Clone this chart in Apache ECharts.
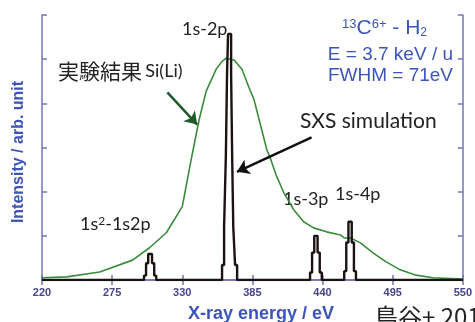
<!DOCTYPE html>
<html>
<head>
<meta charset="utf-8">
<script src="https://cdn.jsdelivr.net/npm/echarts@6/dist/echarts.min.js"></script>
<style>
  html, body { margin: 0; padding: 0; background: #fff; }
  #chart { width: 475px; height: 322px; }
</style>
</head>
<body>
<div id="chart"></div>
<script>
const siLiEnergy = [220, 239.5, 265.2, 291.0, 304.3, 317.5, 330.0, 337.0, 343.3, 348.7, 356.5, 361.2, 364.3, 370.6, 376.8, 382.3, 386.2, 391.6, 396.3, 399.4, 404.1, 409.6, 417.4, 425.2, 433.0, 443.1, 454.1, 457.2, 461.9, 469.7, 479.8, 489.9, 500.9, 513.3, 526.6, 550]
const siLiIntensity = [0.05, 0.07, 0.18, 0.45, 0.73, 1.07, 1.66, 2.73, 3.64, 4.27, 4.77, 4.95, 5.02, 4.98, 4.77, 4.36, 4.09, 3.48, 2.95, 2.73, 2.34, 1.98, 1.59, 1.32, 1.18, 1.09, 1.02, 0.95, 0.95, 0.84, 0.61, 0.41, 0.23, 0.11, 0.05, 0.02]

// SXS simulation peaks: centre (eV) and histogram levels [half width eV, height], top to bottom
const peakNames = ['1s²-1s2p', '1s-2p', '1s-3p', '1s-4p']
const peakCenters = [304.8, 367.1, 434.8, 461.6]
const peakLevels = [
  [[1.5, 0.59], [3.2, 0.38], [4.8, 0.10]],
  [[1.2, 5.57], [2.0, 4.66], [2.9, 2.84], [4.3, 1.20], [5.9, 0.34]],
  [[1.3, 1.00], [3.0, 0.62], [4.6, 0.17]],
  [[1.3, 1.32], [3.0, 0.85], [4.6, 0.20]]
]

const xTicks = [220, 275, 330, 385, 440, 495, 550]

const axisColor = '#7474b8'
const labelColor = '#45458a'
const blue = '#3d55b8'

// build step outline of simulated spectrum
const sxsLine = [[220, 0]]
peakCenters.forEach((c, i) => {
  const lv = peakLevels[i]
  const up = lv.slice().reverse()
  let prev = 0
  up.forEach(([hw, h]) => {
    sxsLine.push([c - hw, prev], [c - hw, h])
    prev = h
  })
  lv.forEach(([hw, h], k) => {
    const next = k + 1 < lv.length ? lv[k + 1][1] : 0
    sxsLine.push([c + hw, h], [c + hw, next])
  })
})
sxsLine.push([550, 0])

const siLiData = siLiEnergy.map((e, i) => [e, siLiIntensity[i]])

const chart = echarts.init(document.getElementById('chart'))

const tickStyle = { show: true, inside: true, length: 5, lineStyle: { color: axisColor, width: 1.5 } }

const option = {
  animation: false,
  grid: { left: 42, right: 10, top: 15, bottom: 42 },
  xAxis: [
    {
      type: 'value', min: 220, max: 550, interval: 55,
      axisLine: { lineStyle: { color: axisColor, width: 1.5 } },
      axisTick: tickStyle,
      splitLine: { show: false },
      axisLabel: {
        color: labelColor, fontSize: 11, fontWeight: 'bold',
        fontFamily: 'Liberation Sans', margin: 7,
        formatter: v => xTicks.includes(v) ? String(v) : ''
      }
    },
    {
      type: 'value', min: 220, max: 550, interval: 55, position: 'top',
      axisLine: { show: true, lineStyle: { color: axisColor, width: 1.5 } },
      axisTick: tickStyle,
      axisLabel: { show: false },
      splitLine: { show: false }
    }
  ],
  yAxis: [
    {
      type: 'value', min: 0, max: 6, interval: 1,
      axisLine: { show: true, lineStyle: { color: axisColor, width: 1.5 } },
      axisTick: tickStyle,
      axisLabel: { show: false },
      splitLine: { show: false }
    },
    {
      type: 'value', min: 0, max: 6, interval: 1, position: 'right',
      axisLine: { show: true, lineStyle: { color: axisColor, width: 1.5 } },
      axisTick: tickStyle,
      axisLabel: { show: false },
      splitLine: { show: false }
    }
  ],
  series: [
    {
      name: '実験結果 Si(Li)',
      type: 'line',
      data: siLiData,
      showSymbol: false,
      lineStyle: { color: '#3a8c3c', width: 1.6 },
      z: 2,
      markLine: {
        silent: true,
        symbol: ['none', 'arrow'],
        symbolSize: 12,
        lineStyle: { color: '#1f5a2a', width: 2.5, type: 'solid' },
        label: { show: false },
        data: [[{ coord: [318.3, 4.25] }, { coord: [341.7, 3.52] }]]
      }
    },
    {
      name: 'SXS simulation',
      type: 'line',
      data: sxsLine,
      showSymbol: false,
      lineStyle: { color: '#1c1212', width: 2.4 },
      z: 3,
      markLine: {
        silent: true,
        symbol: ['none', 'arrow'],
        symbolSize: 12,
        lineStyle: { color: '#111', width: 2.5, type: 'solid' },
        label: { show: false },
        data: [[{ coord: [431.4, 3.23] }, { coord: [372.9, 2.45] }]]
      }
    }
  ],
  graphic: [
    { type: 'text', left: 182, top: 20, style: { text: '1s-2p', font: '18px Lato', fill: '#222' } },
    { type: 'text', left: 58, top: 61, style: {
      rich: {
        j: { fontFamily: 'Noto Sans CJK JP', fontSize: 21, fill: '#222' },
        s: { fontFamily: 'Lato', fontSize: 18, fill: '#222' }
      },
      text: '{j|実験結果} {s|Si(Li)}'
    } },
    { type: 'text', left: 300, top: 111, style: { text: 'SXS simulation', font: '21px Lato', fill: '#222' } },
    { type: 'text', left: 80, top: 215, style: {
      rich: {
        a: { fontFamily: 'Lato', fontSize: 18, fill: '#222' },
        u: { fontFamily: 'Lato', fontSize: 12, fill: '#222', verticalAlign: 'top' }
      },
      text: '{a|1s}{u|2}{a|-1s2p}'
    } },
    { type: 'text', left: 283, top: 190, style: { text: '1s-3p', font: '18px Lato', fill: '#222' } },
    { type: 'text', left: 335, top: 185, style: { text: '1s-4p', font: '18px Lato', fill: '#222' } },
    { type: 'text', right: 48, top: 18, style: {
      rich: {
        b: { fontFamily: 'Liberation Sans', fontSize: 21, fill: blue, verticalAlign: 'bottom' },
        p: { fontFamily: 'Liberation Sans', fontSize: 13, fill: blue, verticalAlign: 'top' },
        d: { fontFamily: 'Liberation Sans', fontSize: 12, fill: blue, verticalAlign: 'bottom' }
      },
      text: '{p|13}{b|C}{p|6+}{b| - H}{d|2}'
    } },
    { type: 'text', right: 22, top: 45, style: { text: 'E = 3.7 keV / u', font: '19px Liberation Sans', fill: blue, align: 'right' } },
    { type: 'text', right: 22, top: 66, style: { text: 'FWHM = 71eV', font: '19px Liberation Sans', fill: blue, align: 'right' } },
    { type: 'text', x: 261, y: 314, style: { text: 'X-ray energy / eV', font: 'bold 18px Liberation Sans', fill: blue, align: 'center', verticalAlign: 'middle' } },
    { type: 'text', x: 19, y: 152, rotation: Math.PI / 2, style: { text: 'Intensity / arb. unit', font: 'bold 16px Liberation Sans', fill: blue, align: 'center', verticalAlign: 'middle' } },
    { type: 'text', left: 374, top: 305, style: { text: '鳥谷+ 2011', font: '24px Noto Sans CJK JP', fill: '#222' } }
  ]
}

chart.setOption(option)
</script>
</body>
</html>
